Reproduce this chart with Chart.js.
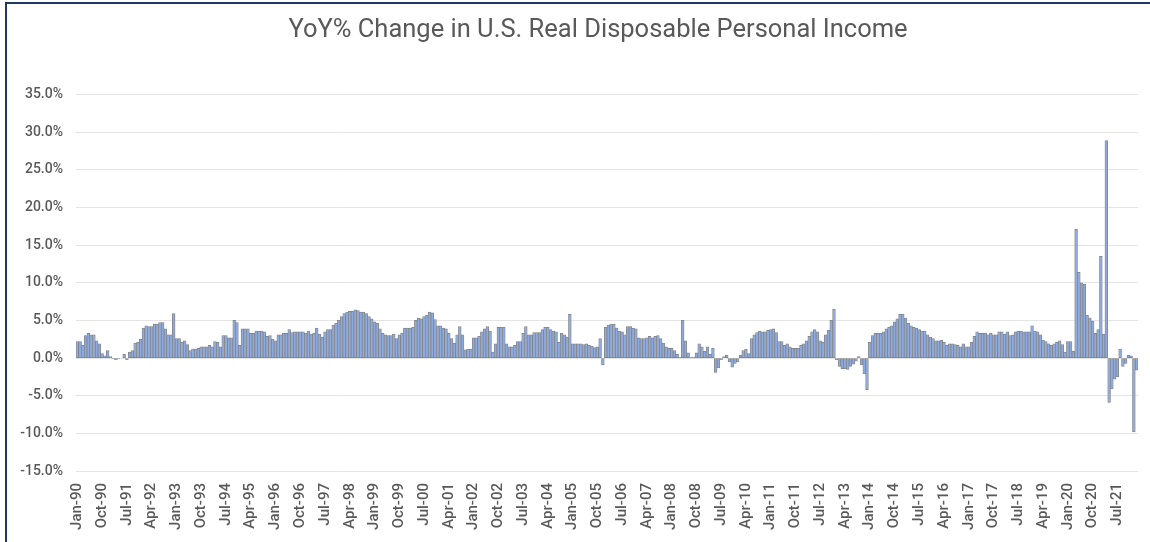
<!DOCTYPE html>
<html>
<head>
<meta charset="utf-8">
<script src="https://cdn.jsdelivr.net/npm/chart.js@4.4.0/dist/chart.umd.min.js"></script>
<style>
  html, body { margin: 0; padding: 0; background: #fff; }
  #frame { position: absolute; left: 5px; top: 2px; width: 1160px; height: 560px;
           border-left: 2px solid #1f3864; border-top: 2px solid #1f3864; }
  #wrap { position: absolute; left: 0; top: 0; width: 1150px; height: 542px; }
</style>
</head>
<body>
<div id="frame"></div>
<div id="wrap"><canvas id="incomeChart"></canvas></div>
<script>
// YoY % change, monthly, Jan-1990 .. Feb-2022
const yoy1990s = [
  2.2, 2.2, 1.7, 3.0, 3.3, 3.1, 3.1, 2.3, 1.9, 0.6, 0.3, 1.0,
  0.2, -0.1, -0.2, -0.1, 0.0, 0.5, -0.2, 0.8, 1.0, 2.0, 2.1, 2.5,
  4.0, 4.3, 4.2, 4.2, 4.5, 4.5, 4.7, 4.7, 3.9, 3.1, 3.1, 5.9,
  2.6, 2.6, 2.1, 2.3, 1.8, 1.0, 1.2, 1.2, 1.3, 1.5, 1.5, 1.5,
  1.7, 1.5, 2.2, 2.1, 1.5, 3.0, 3.0, 2.7, 2.7, 5.0, 4.7, 1.7,
  3.9, 3.9, 3.9, 3.3, 3.3, 3.6, 3.6, 3.6, 3.5, 2.9, 3.0, 2.5,
  2.3, 3.1, 3.1, 3.3, 3.3, 3.8, 3.4, 3.5, 3.5, 3.5, 3.5, 3.3,
  3.6, 3.2, 3.3, 4.0, 3.2, 2.8, 3.5, 3.8, 3.8, 4.4, 4.6, 5.0,
  5.5, 5.9, 6.1, 6.2, 6.2, 6.4, 6.3, 6.1, 6.1, 5.9, 5.5, 5.2,
  4.8, 4.6, 3.9, 3.3, 3.1, 3.0, 3.0, 3.2, 2.6, 3.1, 3.3, 4.0
];
const yoy2000s = [
  4.0, 4.0, 4.1, 5.0, 5.3, 5.2, 5.5, 5.7, 6.1, 6.0, 5.1, 4.3,
  4.3, 4.0, 3.9, 3.3, 2.6, 2.0, 3.1, 4.2, 3.1, 1.1, 1.2, 1.2,
  2.7, 2.7, 2.9, 3.5, 3.9, 4.2, 3.6, 0.8, 1.9, 4.1, 4.1, 4.1,
  1.9, 1.5, 1.5, 1.7, 2.2, 2.2, 3.3, 4.2, 3.1, 3.1, 3.4, 3.4,
  3.4, 3.8, 4.1, 4.1, 3.8, 3.6, 3.5, 2.1, 3.3, 3.1, 2.8, 5.8,
  1.9, 1.9, 1.9, 1.9, 1.8, 1.9, 1.7, 1.6, 1.4, 1.5, 2.6, -0.9,
  4.1, 4.4, 4.5, 4.5, 4.0, 3.6, 3.5, 3.1, 4.2, 4.2, 4.0, 3.9,
  2.7, 2.6, 2.6, 2.7, 2.9, 2.7, 2.9, 3.0, 2.6, 2.0, 1.5, 1.3,
  1.3, 1.0, 0.5, 0.1, 5.0, 2.3, 0.7, 0.1, 0.1, 0.7, 1.9, 1.5,
  0.9, 1.5, 0.5, 1.3, -1.9, -1.3, -0.2, 0.2, 0.4, -0.5, -1.2, -0.7
];
const yoy2010s = [
  -0.5, 0.4, 1.0, 1.2, 0.6, 2.6, 3.1, 3.4, 3.6, 3.5, 3.5, 3.7,
  3.8, 3.9, 3.4, 2.2, 2.2, 1.7, 1.9, 1.5, 1.3, 1.3, 1.3, 1.7,
  1.9, 2.3, 2.9, 3.5, 3.8, 3.5, 2.3, 2.1, 3.1, 3.7, 5.0, 6.5,
  -0.2, -1.1, -1.4, -1.4, -1.5, -1.1, -0.8, -0.4, 0.2, -0.9, -2.1, -4.2,
  2.1, 3.0, 3.3, 3.3, 3.3, 3.5, 3.9, 4.1, 4.3, 4.8, 5.2, 5.8,
  5.8, 5.3, 4.6, 4.3, 4.1, 4.0, 3.8, 3.6, 3.6, 3.1, 2.8, 2.6,
  2.3, 2.3, 2.4, 2.1, 1.7, 1.9, 1.9, 1.8, 1.7, 1.5, 1.9, 1.5,
  1.5, 2.1, 2.9, 3.5, 3.3, 3.3, 3.3, 3.1, 3.3, 3.1, 3.1, 3.5,
  3.5, 3.2, 3.5, 3.0, 3.1, 3.5, 3.6, 3.6, 3.5, 3.5, 3.5, 4.3,
  3.6, 3.5, 3.1, 2.4, 2.2, 1.9, 1.7, 1.9, 2.1, 2.3, 1.8, 0.8
];
const yoy2020s = [
  2.2, 2.2, 0.9, 17.1, 11.4, 10.0, 9.8, 5.7, 5.3, 4.9, 3.3, 3.8,
  13.5, 3.2, 28.9, -5.9, -4.1, -2.8, -2.5, 1.2, -1.1, -0.7, 0.4, 0.3,
  -9.8, -1.6
];

const monthNames = ['Jan', 'Feb', 'Mar', 'Apr', 'May', 'Jun', 'Jul', 'Aug', 'Sep', 'Oct', 'Nov', 'Dec'];
const firstYear = 1990;
const labelEvery = 9; // one month label out of nine is printed

const yoyValues = [].concat(yoy1990s, yoy2000s, yoy2010s, yoy2020s);
const months = yoyValues.map((v, i) =>
  monthNames[i % 12] + '-' + String(firstYear + Math.floor(i / 12)).slice(2));

const textColor = '#595959';
const fontFamily = 'Roboto, "Noto Sans", sans-serif';

// title sits a little right of the canvas centre in the picture
const shiftTitle = {
  id: 'shiftTitle',
  afterLayout(chart) {
    if (chart.titleBlock) chart.titleBlock.left += 58;
  }
};

new Chart(document.getElementById('incomeChart'), {
  type: 'bar',
  data: {
    labels: months,
    datasets: [{
      label: 'YoY %',
      data: yoyValues,
      backgroundColor: '#8faadc',
      borderColor: '#808080',
      borderWidth: 0.75,
      borderSkipped: false,
      barPercentage: 1,
      categoryPercentage: 1
    }]
  },
  plugins: [shiftTitle],
  options: {
    responsive: true,
    maintainAspectRatio: false,
    animation: false,
    layout: { padding: { left: 0, right: 12, top: 0, bottom: 0 } },
    plugins: {
      legend: { display: false },
      tooltip: { enabled: false },
      title: {
        display: true,
        text: 'YoY% Change in U.S. Real Disposable Personal Income',
        color: textColor,
        font: { family: fontFamily, size: 25.5, weight: 'normal' },
        padding: { top: 15, bottom: 49 }
      }
    },
    scales: {
      x: {
        type: 'category',
        offset: true,
        afterFit: function (axis) {
          axis.height = 71;
          // rotated labels must not squeeze the bars
          axis.paddingLeft = 0;
          axis.paddingRight = 0;
        },
        grid: { display: false, drawTicks: false },
        border: { display: false },
        ticks: {
          autoSkip: false,
          minRotation: 90,
          maxRotation: 90,
          padding: 12,
          color: textColor,
          font: { family: fontFamily, size: 15, weight: '500' },
          callback: function (value, index) {
            return index % labelEvery === 0 ? this.getLabelForValue(value) : '';
          }
        }
      },
      y: {
        min: -15,
        max: 35,
        afterFit: function (axis) { axis.width = 76; },
        grid: { color: '#e4e4e4', lineWidth: 1, drawTicks: false },
        border: { display: false },
        ticks: {
          stepSize: 5,
          padding: 13,
          color: textColor,
          font: { family: fontFamily, size: 14, weight: '500' },
          callback: function (value) { return value.toFixed(1) + '%'; }
        }
      }
    }
  }
});
</script>
</body>
</html>
